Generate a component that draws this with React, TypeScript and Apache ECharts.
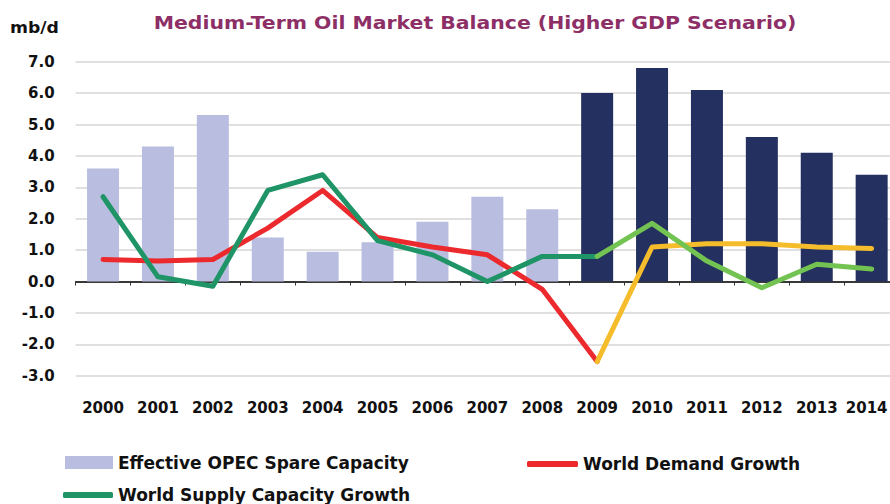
import React, { useEffect, useRef } from "react";
import * as echarts from "echarts";

const categories = ["2000", "2001", "2002", "2003", "2004", "2005", "2006", "2007", "2008", "2009", "2010", "2011", "2012", "2013", "2014"];
// Effective OPEC spare capacity: 2000-2008 (historical) and 2009-2014 (projection)
const spareHistorical = [3.6, 4.3, 5.3, 1.4, 0.95, 1.25, 1.9, 2.7, 2.3];
const spareForecast = [6.0, 6.8, 6.1, 4.6, 4.1, 3.4];
// World demand growth: 2000-2009 and 2009-2014
const demandHistorical = [0.7, 0.65, 0.7, 1.7, 2.9, 1.4, 1.1, 0.85, -0.25, -2.55];
const demandForecast = [-2.55, 1.1, 1.2, 1.2, 1.1, 1.05];
// World supply capacity growth: 2000-2009 and 2009-2014
const supplyHistorical = [2.7, 0.15, -0.15, 2.9, 3.4, 1.3, 0.85, 0.0, 0.8, 0.8];
const supplyForecast = [0.8, 1.85, 0.65, -0.2, 0.55, 0.4];
const yTickValues = [-3, -2, -1, 0, 1, 2, 3, 4, 5, 6, 7];

const titleText = "Medium-Term Oil Market Balance (Higher GDP Scenario)";
const unitText = "mb/d";

const FONT = "DejaVu Sans";

function padStart(arr: number[], total: number): (number | null)[] {
  const out: (number | null)[] = [];
  for (let i = 0; i < total - arr.length; i++) out.push(null);
  return out.concat(arr);
}
function padEnd(arr: number[], total: number): (number | null)[] {
  const out: (number | null)[] = arr.slice();
  while (out.length < total) out.push(null);
  return out;
}

export default function App() {
  const ref = useRef<HTMLDivElement>(null);
  useEffect(() => {
    if (!ref.current) return;
    const chart = echarts.init(ref.current, undefined, { renderer: "svg" });
    const n = categories.length;
    const lastCat = categories[n - 1];
    const lineCommon = {
      type: "line" as const,
      symbol: "none",
      smooth: false,
      connectNulls: false,
      xAxisIndex: 0,
      yAxisIndex: 0,
    };
    const legendText = { fontFamily: FONT, fontWeight: "bold" as const, fontSize: 17, color: "#111" };
    chart.setOption({
      animation: false,
      backgroundColor: "#ffffff",
      grid: { left: 75.6, top: 61.7, width: 823.5, height: 314, containLabel: false },
      graphic: [
        {
          type: "text",
          x: 475,
          y: 23,
          scaleX: 1.2,
          style: {
            text: titleText,
            x: 0,
            y: 0,
            align: "center",
            verticalAlign: "middle",
            textAlign: "center",
            textVerticalAlign: "middle",
            fontFamily: FONT,
            fontWeight: "bold",
            fontSize: 17,
            fill: "#8d2f66",
          },
        },
        {
          type: "text",
          x: 10,
          y: 28,
          scaleX: 1.15,
          style: {
            text: unitText,
            x: 0,
            y: 0,
            align: "left",
            verticalAlign: "middle",
            textAlign: "left",
            textVerticalAlign: "middle",
            fontFamily: FONT,
            fontWeight: "bold",
            fontSize: 15,
            fill: "#111",
          },
        },
      ],
      legend: [
        {
          data: [{ name: "Effective OPEC Spare Capacity", icon: "rect" }],
          left: 65,
          top: 454,
          padding: 0,
          itemWidth: 48,
          itemHeight: 13,
          selectedMode: false,
          textStyle: legendText,
        },
        {
          data: [{ name: "World Demand Growth", icon: "roundRect" }],
          left: 527,
          top: 455.5,
          padding: 0,
          itemWidth: 51,
          itemHeight: 6,
          selectedMode: false,
          textStyle: legendText,
        },
        {
          data: [{ name: "World Supply Capacity Growth", icon: "roundRect" }],
          left: 63,
          top: 486.5,
          padding: 0,
          itemWidth: 50,
          itemHeight: 6,
          selectedMode: false,
          textStyle: legendText,
        },
      ],
      xAxis: [
        {
          type: "category",
          data: categories,
          position: "bottom",
          boundaryGap: true,
          axisLine: { show: false, onZero: false },
          axisTick: { show: false },
          splitLine: { show: false },
          axisLabel: {
            margin: 25,
            fontFamily: FONT,
            fontWeight: "bold",
            fontSize: 15,
            color: "#111",
            interval: 0,
            formatter: (v: string) => (v === lastCat ? `{last|${v}}` : v),
            rich: {
              last: {
                fontFamily: FONT,
                fontWeight: "bold",
                fontSize: 15,
                color: "#111",
                padding: [0, 10, 0, 0],
              },
            },
          },
        },
        {
          type: "category",
          data: categories,
          position: "bottom",
          boundaryGap: true,
          axisLine: { show: true, onZero: true, lineStyle: { color: "#000", width: 1.5 } },
          axisTick: { show: true, length: 4, inside: false, lineStyle: { color: "#333", width: 1 } },
          axisLabel: { show: false },
          splitLine: { show: false },
        },
      ],
      yAxis: {
        type: "value",
        min: yTickValues[0],
        max: yTickValues[yTickValues.length - 1],
        interval: 1,
        axisLine: { show: false },
        axisTick: { show: false },
        axisLabel: {
          margin: 21,
          fontFamily: FONT,
          fontWeight: "bold",
          fontSize: 15,
          color: "#111",
          formatter: (v: number) => v.toFixed(1),
        },
        splitLine: { show: true, lineStyle: { color: "#d6d6d6", width: 1.5 } },
      },
      series: [
        {
          name: "Effective OPEC Spare Capacity",
          type: "bar",
          data: padEnd(spareHistorical, n),
          barWidth: 32,
          barGap: "-100%",
          itemStyle: { color: "#b9bde0" },
          z: 2,
        },
        {
          name: "Effective OPEC Spare Capacity (projection)",
          type: "bar",
          data: padStart(spareForecast, n),
          barWidth: 32,
          barGap: "-100%",
          itemStyle: { color: "#24305f" },
          z: 2,
        },
        {
          ...lineCommon,
          name: "World Demand Growth",
          data: padEnd(demandHistorical, n),
          lineStyle: { color: "#ec2a2e", width: 5, cap: "round", join: "round" },
          itemStyle: { color: "#ec2a2e" },
          z: 3,
        },
        {
          ...lineCommon,
          name: "World Demand Growth (projection)",
          data: padStart(demandForecast, n),
          lineStyle: { color: "#f5bd2c", width: 5, cap: "round", join: "round" },
          itemStyle: { color: "#f5bd2c" },
          z: 3,
        },
        {
          ...lineCommon,
          name: "World Supply Capacity Growth",
          data: padEnd(supplyHistorical, n),
          lineStyle: { color: "#1f9466", width: 5, cap: "round", join: "round" },
          itemStyle: { color: "#1f9466" },
          z: 4,
        },
        {
          ...lineCommon,
          name: "World Supply Capacity Growth (projection)",
          data: padStart(supplyForecast, n),
          lineStyle: { color: "#72c351", width: 5, cap: "round", join: "round" },
          itemStyle: { color: "#72c351" },
          z: 4,
        },
      ],
    });
    return () => {
      chart.dispose();
    };
  }, []);
  return (
    <div
      ref={ref}
      style={{ position: "fixed", left: 0, top: 0, width: 900, height: 504, background: "#fff" }}
    />
  );
}
